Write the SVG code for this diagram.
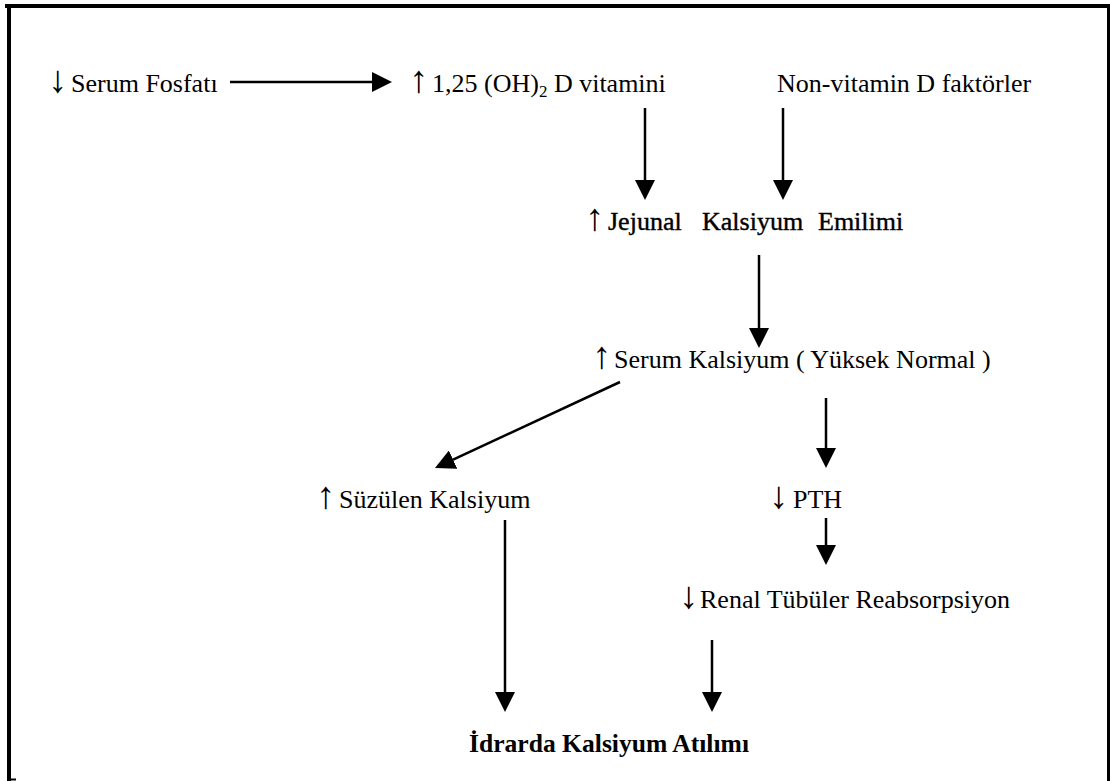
<svg xmlns="http://www.w3.org/2000/svg" width="1110" height="781" viewBox="0 0 1110 781">
<style>
text{font-family:"Liberation Serif","Times New Roman",serif;font-size:26px;fill:#000}
.b{font-weight:bold}
.ar{font-size:38px}
.c{stroke:#000;stroke-width:2.5;fill:none}
.frame{stroke:#000;fill:none}
</style>
<defs>
<marker id="ah" viewBox="0 0 20 20" refX="0" refY="10" markerWidth="20" markerHeight="20" markerUnits="userSpaceOnUse" orient="auto">
<path d="M0,0 L20,10 L0,20 z" fill="#000"/>
</marker>
</defs>
<rect width="1110" height="781" fill="#fff"/>
<g id="frame">
<line class="frame" x1="5" y1="6" x2="1110" y2="6" stroke-width="4"/>
<line class="frame" x1="9" y1="4" x2="9" y2="781" stroke-width="4"/>
<line class="frame" x1="1108.5" y1="4" x2="1108.5" y2="781" stroke-width="3"/>
<line class="frame" x1="7" y1="779.5" x2="16" y2="779.5" stroke-width="2"/>
</g>
<g id="connectors">
<line class="c" x1="230" y1="82" x2="372" y2="82" marker-end="url(#ah)"/>
<line class="c" x1="645" y1="108" x2="645" y2="180" marker-end="url(#ah)"/>
<line class="c" x1="783" y1="108" x2="783" y2="180" marker-end="url(#ah)"/>
<line class="c" x1="759" y1="255" x2="759" y2="328" marker-end="url(#ah)"/>
<line class="c" x1="620" y1="382" x2="453.1" y2="459.6" marker-end="url(#ah)"/>
<line class="c" x1="826" y1="398" x2="826" y2="448" marker-end="url(#ah)"/>
<line class="c" x1="826" y1="518" x2="826" y2="545" marker-end="url(#ah)"/>
<line class="c" x1="505" y1="520" x2="505" y2="692" marker-end="url(#ah)"/>
<line class="c" x1="712" y1="640" x2="712" y2="692" marker-end="url(#ah)"/>
</g>
<g id="serum-fosfati"><text y="92"><tspan class="ar" x="48">↓</tspan><tspan x="71">Serum Fosfatı</tspan></text></g>
<g id="vitamin-d"><text y="92"><tspan class="ar" x="409">↑</tspan><tspan x="432">1,25 (OH)</tspan><tspan font-size="17" dy="5">2</tspan><tspan dy="-5"> D vitamini</tspan></text></g>
<g id="non-vitamin-d"><text x="777" y="92">Non-vitamin D faktörler</text></g>
<g id="jejunal"><text y="230" stroke="#000" stroke-width="0.4"><tspan class="ar" x="585" stroke-width="0">↑</tspan><tspan x="608">Jejunal</tspan><tspan x="702">Kalsiyum</tspan><tspan x="818">Emilimi</tspan></text></g>
<g id="serum-kalsiyum"><text y="368"><tspan class="ar" x="592">↑</tspan><tspan x="614">Serum Kalsiyum ( Yüksek Normal )</tspan></text></g>
<g id="suzulen"><text y="508"><tspan class="ar" x="316">↑</tspan><tspan x="339">Süzülen Kalsiyum</tspan></text></g>
<g id="pth"><text y="508"><tspan class="ar" x="769">↓</tspan><tspan x="793">PTH</tspan></text></g>
<g id="renal"><text y="608"><tspan class="ar" x="679">↓</tspan><tspan x="700">Renal Tübüler Reabsorpsiyon</tspan></text></g>
<g id="idrarda"><text class="b" x="469" y="752" textLength="280" lengthAdjust="spacingAndGlyphs">İdrarda Kalsiyum Atılımı</text></g>
</svg>
